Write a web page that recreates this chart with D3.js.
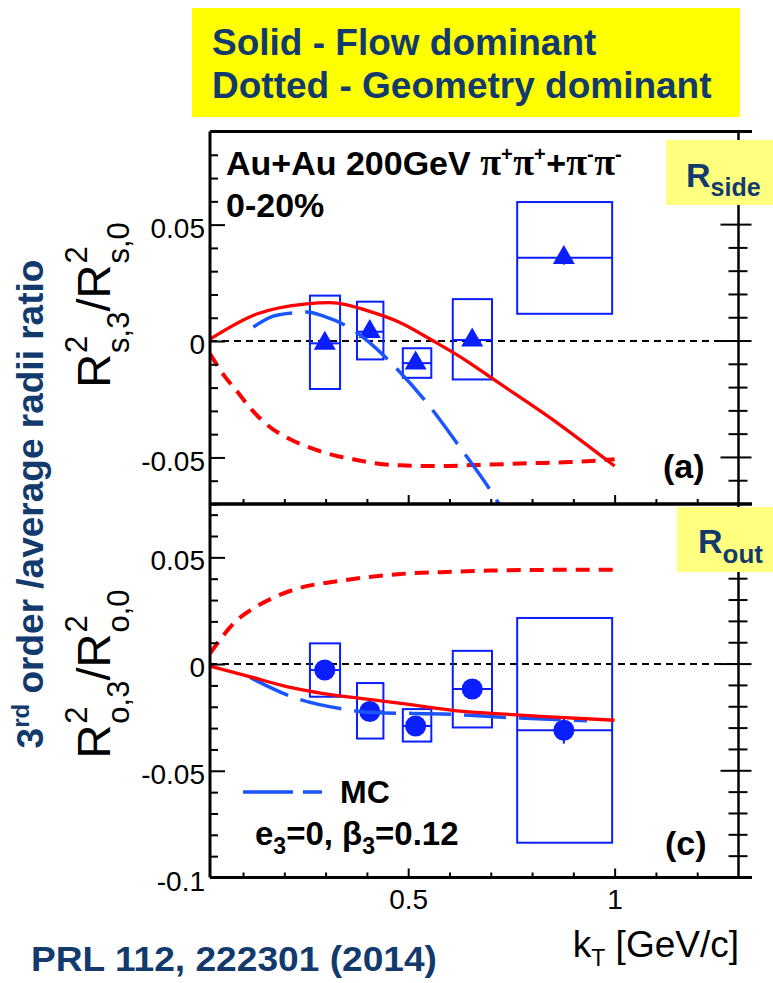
<!DOCTYPE html>
<html>
<head>
<meta charset="utf-8">
<script src="https://cdn.jsdelivr.net/npm/d3@7"></script>
<style>
  body { margin: 0; background: #fff; }
  svg { display: block; font-family: "Liberation Sans", Arial, sans-serif; }
</style>
</head>
<body>
<svg id="chart" width="773" height="983"></svg>
<script>
// ---- data ----
const kT      = [0.298, 0.407, 0.518, 0.655, 0.877];
const binLo   = [0.262, 0.376, 0.487, 0.608, 0.764];
const binHi   = [0.335, 0.440, 0.556, 0.703, 0.994];

// R_side (panel a)
const sideVal   = [-0.001, 0.004, -0.0095, 0.0004, 0.0358];
const sideSysLo = [-0.0206, -0.0079, -0.0158, -0.0165, 0.0117];
const sideSysHi = [0.0195, 0.0169, -0.0031, 0.0180, 0.0597];
const sideStat  = [0.002, 0.002, 0.002, 0.002, 0.003];

// R_out (panel c)
const outVal   = [-0.0028, -0.0222, -0.029, -0.0117, -0.031];
const outSysLo = [-0.0153, -0.0349, -0.0363, -0.0297, -0.0837];
const outSysHi = [0.0097, -0.0089, -0.0211, 0.0062, 0.0216];
const outStat  = [0.002, 0.002, 0.002, 0.002, 0.0063];

// model curves, panel a
const sideFlowKt = [0.02, 0.133, 0.254, 0.311, 0.416, 0.481, 0.561, 0.642, 0.707, 0.844, 1.0];
const sideFlow   = [0.0008, 0.0116, 0.016, 0.0165, 0.0122, 0.0079, 0.0, -0.0086, -0.0165, -0.033, -0.0537];
const sideGeoKt  = [0.02, 0.052, 0.085, 0.117, 0.157, 0.214, 0.262, 0.319, 0.367, 0.424, 0.481, 0.578, 0.658, 0.796, 0.893, 1.0];
const sideGeo    = [-0.0055, -0.0143, -0.0215, -0.0287, -0.0358, -0.0422, -0.0458, -0.049, -0.0508, -0.0526, -0.0534, -0.0537, -0.0533, -0.0525, -0.052, -0.0508];
const sideMcKt   = [0.125, 0.173, 0.226, 0.254, 0.295, 0.351, 0.400, 0.456, 0.545, 0.626, 0.703, 0.73];
const sideMc     = [0.006, 0.0107, 0.0122, 0.0125, 0.0107, 0.0064, 0.0003, -0.0089, -0.0265, -0.0458, -0.0652, -0.073];

// model curves, panel c
const outFlowKt = [0.02, 0.109, 0.214, 0.295, 0.400, 0.497, 0.618, 0.739, 0.820, 1.0];
const outFlow   = [-0.001, -0.0055, -0.0109, -0.0138, -0.0164, -0.0188, -0.0219, -0.0235, -0.0245, -0.0263];
const outGeoKt  = [0.02, 0.085, 0.133, 0.190, 0.254, 0.311, 0.400, 0.481, 0.618, 0.699, 0.804, 1.0];
const outGeo    = [0.005, 0.0205, 0.027, 0.0325, 0.0365, 0.0383, 0.0407, 0.0422, 0.0433, 0.0438, 0.0441, 0.0442];
const outMcKt   = [0.117, 0.222, 0.343, 0.416, 0.602, 0.739, 0.933];
const outMc     = [-0.0063, -0.0156, -0.0211, -0.0227, -0.0235, -0.025, -0.0266];

// axes
const xDomain       = [0.02, 1.3];
const xMinorTicks   = d3.range(1, 13).map(i => i / 10);
const xTickLabels   = [0.5, 1];
const sideDomain    = [-0.07, 0.09];
const outDomain     = [-0.1, 0.075];
const sideMinor     = d3.range(-7, 9).map(i => i / 100);
const outMinor      = d3.range(-10, 8).map(i => i / 100);
const sideTickLabels = [0.05, 0, -0.05];
const outTickLabels  = [0.05, 0, -0.05, -0.1];

// ---- drawing ----
const svg = d3.select("#chart");
const navy = "#123a6c", blue = "#0a1eff", mcBlue = "#1a55ff", red = "#ff0000";
const left = 210, right = 738.5, extRight = 752;

const x = d3.scaleLinear().domain(xDomain).range([left, right]);

// top yellow legend
svg.append("rect").attr("x", 192).attr("y", 8).attr("width", 548).attr("height", 109).attr("fill", "#ffff00");
svg.append("text").attr("x", 212).attr("y", 55).attr("fill", navy)
    .style("font-size", "37px").style("font-weight", "bold").text("Solid - Flow dominant");
svg.append("text").attr("x", 212).attr("y", 98).attr("fill", navy)
    .style("font-size", "37px").style("font-weight", "bold").text("Dotted - Geometry dominant");

const panels = [
    { top: 131.5, bottom: 504, domain: sideDomain, minor: sideMinor, labels: sideTickLabels,
      val: sideVal, lo: sideSysLo, hi: sideSysHi, stat: sideStat,
      symbol: d3.symbolTriangle, size: 210, showX: false,
      curves: [
          { kt: sideGeoKt, v: sideGeo, color: red, w: 4, dash: "14,9" },
          { kt: sideMcKt, v: sideMc, color: mcBlue, w: 3.5, dash: "42,13" },
          { kt: sideFlowKt, v: sideFlow, color: red, w: 3.3, dash: null }
      ] },
    { top: 504, bottom: 877.5, domain: outDomain, minor: outMinor, labels: outTickLabels,
      val: outVal, lo: outSysLo, hi: outSysHi, stat: outStat,
      symbol: d3.symbolCircle, size: 350, showX: true,
      curves: [
          { kt: outGeoKt, v: outGeo, color: red, w: 4, dash: "14,9" },
          { kt: outMcKt, v: outMc, color: mcBlue, w: 3.5, dash: "42,13" },
          { kt: outFlowKt, v: outFlow, color: red, w: 3.3, dash: null }
      ] }
];

panels.forEach((p, pi) => {
    const y = d3.scaleLinear().domain(p.domain).range([p.bottom, p.top]);
    const g = svg.append("g");
    const clipId = "clip" + pi;
    svg.append("clipPath").attr("id", clipId).append("rect")
        .attr("x", left).attr("y", p.top).attr("width", right - left).attr("height", p.bottom - p.top);

    // zero reference
    g.append("line").attr("x1", left).attr("x2", right).attr("y1", y(0)).attr("y2", y(0))
        .attr("stroke", "#000").attr("stroke-width", 2).attr("stroke-dasharray", "7,5");

    const idx = d3.range(kT.length);

    // systematic boxes
    g.selectAll("rect.sys").data(idx).join("rect").attr("class", "sys")
        .attr("x", i => x(binLo[i])).attr("width", i => x(binHi[i]) - x(binLo[i]))
        .attr("y", i => y(p.hi[i])).attr("height", i => y(p.lo[i]) - y(p.hi[i]))
        .attr("fill", "none").attr("stroke", blue).attr("stroke-width", 2);
    g.selectAll("line.mid").data(idx).join("line").attr("class", "mid")
        .attr("x1", i => x(binLo[i])).attr("x2", i => x(binHi[i]))
        .attr("y1", i => y(p.val[i])).attr("y2", i => y(p.val[i]))
        .attr("stroke", blue).attr("stroke-width", 2);
    // stat bars
    g.selectAll("line.stat").data(idx).join("line").attr("class", "stat")
        .attr("x1", i => x(kT[i])).attr("x2", i => x(kT[i]))
        .attr("y1", i => y(p.val[i] - p.stat[i])).attr("y2", i => y(p.val[i] + p.stat[i]))
        .attr("stroke", blue).attr("stroke-width", 2);
    // markers
    g.selectAll("path.pt").data(idx).join("path").attr("class", "pt")
        .attr("d", d3.symbol().type(p.symbol).size(p.size))
        .attr("transform", i => `translate(${x(kT[i])},${y(p.val[i])})`)
        .attr("fill", blue);

    // model curves
    const line = d3.line().x(d => x(d[0])).y(d => y(d[1])).curve(d3.curveMonotoneX);
    p.curves.forEach(c => {
        g.append("path").datum(d3.zip(c.kt, c.v))
            .attr("clip-path", `url(#${clipId})`)
            .attr("d", line).attr("fill", "none")
            .attr("stroke", c.color).attr("stroke-width", c.w)
            .attr("stroke-dasharray", c.dash);
    });

    // left axis: minor + major ticks inside
    const isMajor = v => Math.abs(Math.round(v * 100)) % 5 === 0;
    svg.append("g").attr("transform", `translate(${left},0)`)
        .call(d3.axisLeft(y).tickValues(p.minor.filter(v => !isMajor(v))).tickSizeInner(-8).tickSizeOuter(0).tickFormat(""))
        .call(a => a.select(".domain").remove())
        .call(a => a.selectAll("line").attr("stroke-width", 2));
    svg.append("g").attr("transform", `translate(${left},0)`)
        .call(d3.axisLeft(y).tickValues(p.labels).tickSizeInner(-15).tickSizeOuter(0).tickPadding(5).tickFormat(d => String(d)))
        .call(a => a.select(".domain").remove())
        .call(a => a.selectAll("line").attr("stroke-width", 2))
        .call(a => a.selectAll("text").attr("dy", "0.45em").style("font-size", "28px").attr("fill", "#000"));

    // right axis ticks crossing the frame
    svg.append("g").selectAll("line").data(p.minor).join("line")
        .attr("x1", v => right - (isMajor(v) ? 18 : 10)).attr("x2", v => right + (isMajor(v) ? 13 : 9))
        .attr("y1", v => y(v)).attr("y2", v => y(v))
        .attr("stroke", "#000").attr("stroke-width", 2);

    // bottom axis ticks (upwards)
    svg.append("g").attr("transform", `translate(0,${p.bottom})`)
        .call(d3.axisBottom(x).tickValues(xMinorTicks.filter(v => !xTickLabels.includes(v))).tickSizeInner(-5).tickSizeOuter(0).tickFormat(""))
        .call(a => a.select(".domain").remove())
        .call(a => a.selectAll("line").attr("stroke-width", 2));
    svg.append("g").attr("transform", `translate(0,${p.bottom})`)
        .call(d3.axisBottom(x).tickValues(xTickLabels).tickSizeInner(-9).tickSizeOuter(0).tickPadding(12)
            .tickFormat(p.showX ? (d => String(d)) : ""))
        .call(a => a.select(".domain").remove())
        .call(a => a.selectAll("line").attr("stroke-width", 2))
        .call(a => a.selectAll("text").style("font-size", "28px").attr("fill", "#000"));

    // frame
    svg.append("line").attr("x1", left).attr("x2", extRight).attr("y1", p.top).attr("y2", p.top)
        .attr("stroke", "#000").attr("stroke-width", 3);
    svg.append("line").attr("x1", left).attr("x2", extRight).attr("y1", p.bottom).attr("y2", p.bottom)
        .attr("stroke", "#000").attr("stroke-width", 3);
    svg.append("line").attr("x1", left).attr("x2", left).attr("y1", p.top).attr("y2", p.bottom)
        .attr("stroke", "#000").attr("stroke-width", 3);
    svg.append("line").attr("x1", right).attr("x2", right).attr("y1", p.top).attr("y2", p.bottom)
        .attr("stroke", "#000").attr("stroke-width", 2.5);
});

// y-axis ratio labels built from pieces (R^2_{x,3}/R^2_{x,0})
function ratioLabel(letter, cy) {
    const outer = svg.append("g").attr("transform", `translate(110,${cy}) rotate(-90)`);
    const lab = outer.append("g");
    let cx = 0;
    const piece = (txt, size, dy, px) => lab.append("text").attr("x", px).attr("y", dy)
        .style("font-size", size + "px").attr("fill", "#000").text(txt);
    [3, 0].forEach((n, k) => {
        const r = piece("R", 47, 0, cx);
        cx += r.node().getComputedTextLength() + 1;
        const s = piece("2", 31, -23, cx);
        const b = piece(letter + "," + n, 31, 19, cx);
        cx += Math.max(s.node().getComputedTextLength(), b.node().getComputedTextLength());
        if (k === 0) {
            const sl = piece("/", 47, 0, cx);
            cx += sl.node().getComputedTextLength();
        }
    });
    lab.attr("transform", `translate(${-cx / 2},0)`);
}
ratioLabel("s", 305);
ratioLabel("o", 674);

// outer axis title
const yt = svg.append("text").attr("transform", "translate(43,504) rotate(-90)")
    .attr("text-anchor", "middle").attr("fill", navy)
    .style("font-size", "37px").style("font-weight", "bold");
yt.append("tspan").text("3");
yt.append("tspan").attr("dy", -14).style("font-size", "24px").text("rd");
yt.append("tspan").attr("dy", 14).text(" order /average radii ratio");

// panel annotations
const ann = svg.append("text").attr("x", 226).attr("y", 175)
    .style("font-size", "34px").style("font-weight", "bold").attr("fill", "#000");
ann.append("tspan").text("Au+Au 200GeV ");
[["π", "+"], ["π", "+"], ["+", null], ["π", "-"], ["π", "-"]].forEach(([base, sup]) => {
    ann.append("tspan").style("font-family", base === "π" ? "'Liberation Serif', serif" : null)
        .style("font-size", base === "π" ? "38px" : "34px").text(base);
    if (sup) {
        ann.append("tspan").attr("dy", -14).style("font-size", "20px").text(sup);
        ann.append("tspan").attr("dy", 14).style("font-size", "2px").text(" ");
    }
});
svg.append("text").attr("x", 226).attr("y", 217)
    .style("font-size", "34px").style("font-weight", "bold").text("0-20%");

svg.append("text").attr("x", 663).attr("y", 478)
    .style("font-size", "34px").style("font-weight", "bold").text("(a)");
svg.append("text").attr("x", 665).attr("y", 855)
    .style("font-size", "34px").style("font-weight", "bold").text("(c)");

// MC legend
svg.append("line").attr("x1", 243).attr("x2", 322).attr("y1", 792).attr("y2", 792)
    .attr("stroke", mcBlue).attr("stroke-width", 3.5).attr("stroke-dasharray", "50,10");
svg.append("text").attr("x", 340).attr("y", 803)
    .style("font-size", "32px").style("font-weight", "bold").text("MC");
const eb = svg.append("text").attr("x", 255).attr("y", 845)
    .style("font-size", "33px").style("font-weight", "bold");
eb.append("tspan").text("e");
eb.append("tspan").attr("dy", 9).style("font-size", "23px").text("3");
eb.append("tspan").attr("dy", -9).text("=0, β");
eb.append("tspan").attr("dy", 9).style("font-size", "23px").text("3");
eb.append("tspan").attr("dy", -9).text("=0.12");

// R_side / R_out tags
svg.append("rect").attr("x", 666).attr("y", 140).attr("width", 107).attr("height", 65).attr("fill", "#ffff80");
const rs = svg.append("text").attr("x", 686).attr("y", 187).attr("fill", navy)
    .style("font-size", "34px").style("font-weight", "bold");
rs.append("tspan").text("R");
rs.append("tspan").attr("dy", 9).style("font-size", "25px").text("side");
svg.append("rect").attr("x", 677).attr("y", 507).attr("width", 96).attr("height", 65).attr("fill", "#ffff80");
const ro = svg.append("text").attr("x", 698).attr("y", 553).attr("fill", navy)
    .style("font-size", "34px").style("font-weight", "bold");
ro.append("tspan").text("R");
ro.append("tspan").attr("dy", 10).style("font-size", "26px").text("out");

// x axis title
const xt = svg.append("text").attr("x", 739).attr("y", 957).attr("text-anchor", "end")
    .style("font-size", "37px").attr("fill", "#000");
xt.append("tspan").text("k");
xt.append("tspan").attr("dy", 9).style("font-size", "23px").text("T");
xt.append("tspan").attr("dy", -9).text(" [GeV/c]");

// reference
svg.append("text").attr("x", 31).attr("y", 971).attr("fill", navy)
    .attr("textLength", 406).attr("lengthAdjust", "spacingAndGlyphs")
    .style("font-size", "35px").style("font-weight", "bold").text("PRL 112, 222301 (2014)");
</script>
</body>
</html>
